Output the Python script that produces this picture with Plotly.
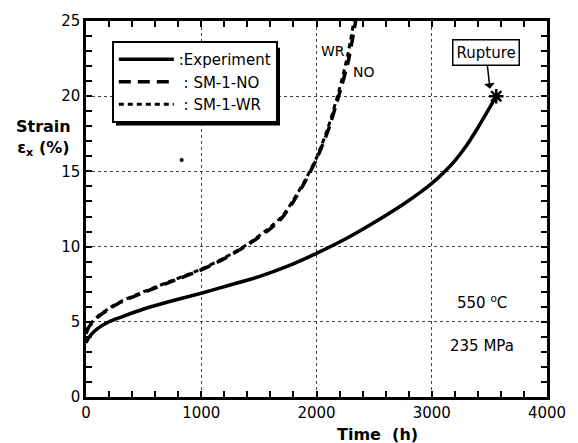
import plotly.graph_objects as go

# Experiment (solid)
exp_t = [0, 20, 50, 100, 200, 300, 500, 750, 1000, 1250, 1500, 1750, 2000, 2250, 2500, 2750, 2900, 3000, 3100, 3200, 3300, 3400, 3500, 3560]
exp_e = [3.6, 3.9, 4.2, 4.55, 5.0, 5.3, 5.85, 6.4, 6.9, 7.45, 8.0, 8.7, 9.55, 10.5, 11.6, 12.8, 13.6, 14.2, 14.9, 15.7, 16.7, 17.9, 19.2, 20.0]

# SM-1-NO (long dashes)
no_t = [0, 20, 50, 100, 200, 300, 500, 750, 1000, 1200, 1400, 1600, 1700, 1800, 1900, 2000, 2100, 2200, 2275, 2340]
no_e = [4.2, 4.6, 4.9, 5.3, 5.85, 6.3, 6.95, 7.7, 8.45, 9.2, 10.1, 11.2, 11.9, 13.0, 14.3, 15.8, 17.7, 20.2, 22.3, 25.0]

# SM-1-WR (short dashes)
wr_t = [0, 20, 50, 100, 200, 300, 500, 750, 1000, 1200, 1400, 1600, 1700, 1800, 1900, 2000, 2100, 2200, 2270, 2325]
wr_e = [4.3, 4.65, 4.95, 5.35, 5.9, 6.35, 7.0, 7.75, 8.5, 9.25, 10.15, 11.3, 12.0, 13.1, 14.4, 15.9, 17.9, 20.5, 22.7, 25.0]

rupture_t = [3560]
rupture_e = [20.0]

stray_t = [830]
stray_e = [15.75]

# tick marks (every 200 h / every 1 %) and which of them carry labels
x_tick_vals = list(range(0, 4001, 200))
x_labelled = [0, 1000, 2000, 3000, 4000]
y_tick_vals = list(range(0, 26, 1))
y_labelled = [0, 5, 10, 15, 20, 25]

x_tick_text = [str(v) if v in x_labelled else "" for v in x_tick_vals]
y_tick_text = [str(v) if v in y_labelled else "" for v in y_tick_vals]

FONT = "DejaVu Sans"

fig = go.Figure()
fig.add_trace(go.Scatter(x=exp_t, y=exp_e, mode="lines", name=":Experiment",
                         line=dict(color="black", width=3.5, shape="spline", smoothing=0.6)))
fig.add_trace(go.Scatter(x=no_t, y=no_e, mode="lines", name=" : SM-1-NO",
                         line=dict(color="black", width=3.5, dash="12px,7px", shape="spline", smoothing=0.6)))
fig.add_trace(go.Scatter(x=wr_t, y=wr_e, mode="lines", name=" : SM-1-WR",
                         line=dict(color="black", width=3, dash="5px,4px", shape="spline", smoothing=0.6)))
fig.add_trace(go.Scatter(x=rupture_t, y=rupture_e, mode="markers", showlegend=False,
                         marker=dict(symbol="asterisk-open", size=12, color="black",
                                     line=dict(color="black", width=2.5))))
fig.add_trace(go.Scatter(x=stray_t, y=stray_e, mode="markers", showlegend=False,
                         marker=dict(symbol="circle", size=4, color="black")))

axis_common = dict(
    showline=True, linecolor="black", linewidth=2.5, mirror="allticks",
    ticks="inside", ticklen=6, tickwidth=1.5, tickcolor="black",
    showgrid=False, zeroline=False,
    tickfont=dict(family=FONT, size=15, color="black"),
    layer="above traces",
)

fig.update_xaxes(range=[0, 4000], tickmode="array", tickvals=x_tick_vals, ticktext=x_tick_text,
                 minor=dict(tickmode="array", tickvals=x_labelled, showgrid=True,
                            gridcolor="#444", gridwidth=1, griddash="dot"),
                 **axis_common)
fig.update_yaxes(range=[0, 25], tickmode="array", tickvals=y_tick_vals, ticktext=y_tick_text,
                 minor=dict(tickmode="array", tickvals=y_labelled, showgrid=True,
                            gridcolor="#444", gridwidth=1, griddash="dot"),
                 **axis_common)

annots = [
    dict(xref="paper", yref="paper", x=-0.093, y=0.69, text="<b>Strain</b><br><b>ε<sub>x</sub> (%)</b>",
         showarrow=False, font=dict(family=FONT, size=16, color="black"), xanchor="center", yanchor="middle"),
    dict(xref="paper", yref="paper", x=0.633, y=-0.10, text="<b>Time  (h)</b>",
         showarrow=False, font=dict(family=FONT, size=16, color="black"), xanchor="center", yanchor="middle"),
    dict(x=2142, y=23.0, text="WR", showarrow=False, font=dict(family=FONT, size=14, color="black")),
    dict(x=2411, y=21.6, text="NO", showarrow=False, font=dict(family=FONT, size=14, color="black")),
    dict(x=3440, y=6.3, text="550 <sup>o</sup>C", showarrow=False, font=dict(family=FONT, size=15, color="black")),
    dict(x=3440, y=3.4, text="235 MPa", showarrow=False, font=dict(family=FONT, size=15, color="black")),
    dict(x=3505, y=20.5, ax=-4, ay=-36, text="Rupture", showarrow=True, arrowhead=1, arrowsize=1.2,
         arrowwidth=1.5, arrowcolor="black", bordercolor="black", borderwidth=1.5, borderpad=3,
         bgcolor="white", font=dict(family=FONT, size=15, color="black")),
]

# legend drop shadow (layout decoration)
shadow = dict(type="rect", xref="paper", yref="paper", layer="above",
              x0=(116 - 86) / 461, x1=(280 - 86) / 461,
              y0=(397 - 124) / 378, y1=(397 - 46) / 378,
              fillcolor="black", line=dict(width=0))

fig.update_layout(
    width=578, height=443,
    margin=dict(l=86, r=31, t=19, b=46),
    plot_bgcolor="white", paper_bgcolor="white",
    annotations=annots,
    shapes=[shadow],
    legend=dict(x=0.056, y=0.947, xanchor="left", yanchor="top",
                bgcolor="white", bordercolor="black", borderwidth=2,
                font=dict(family=FONT, size=15, color="black"),
                itemwidth=55, tracegroupgap=0),
)

fig.write_html("out.html")
